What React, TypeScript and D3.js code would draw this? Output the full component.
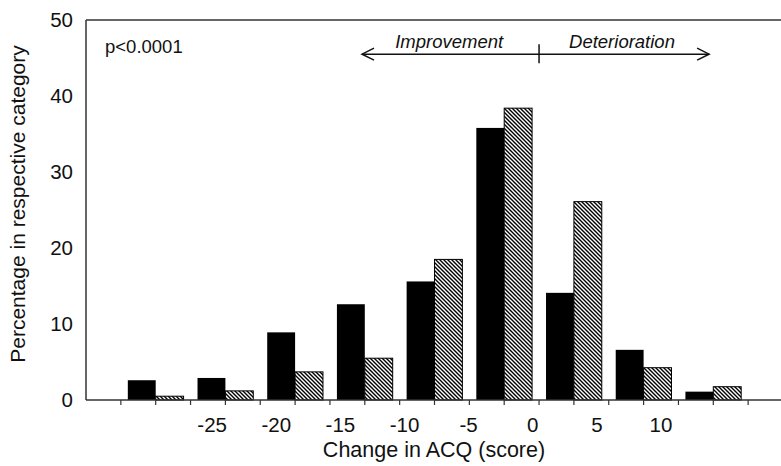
import * as d3 from "d3";

// bin lower edges (ACQ change, score)
const bins = [-30, -25, -20, -15, -10, -5, 0, 5, 10];
const solidValues = [2.6, 2.9, 8.9, 12.6, 15.6, 35.8, 14.1, 6.6, 1.1];
const hatchValues = [0.5, 1.2, 3.7, 5.5, 18.5, 38.4, 26.1, 4.25, 1.75];
const xTickLabels = [-25, -20, -15, -10, -5, 0, 5, 10];
const yTicks = [0, 10, 20, 30, 40, 50];

const W = 781;
const H = 466;
const font = "Arial, 'Liberation Sans', Helvetica, sans-serif";

export default function App() {
  const x = d3.scaleLinear().domain([-32.5, 17.5]).range([86, 783]);
  const y = d3.scaleLinear().domain([0, 50]).range([400, 20]);
  // tick labels in the original sit slightly off the bin edges
  const labelX = d3.scaleLinear().domain([-25, 10]).range([x(-23.45), x(8.75)]);
  const minorTicks = d3.range(-30, 15.01, 2.5);

  const arrowY = y(45.5);
  const leftTip = x(-12.7);
  const rightTip = x(12.2);

  return (
    <svg width={W} height={H} style={{ position: "absolute", left: 0, top: 0, background: "#fff" }} fontFamily={font}>
      <defs>
        <pattern id="hatch" patternUnits="userSpaceOnUse" width={4} height={4}>
          <rect width={4} height={4} fill="#fff" />
          <path d="M-1,-1 L5,5 M-1,3 L1,5 M3,-1 L5,1" stroke="#000" strokeWidth={1.4} />
        </pattern>
      </defs>

      {/* bars */}
      {bins.map((b, i) => (
        <g key={b}>
          <rect x={x(b + 0.5)} y={y(solidValues[i])} width={x(b + 2.5) - x(b + 0.5)} height={y(0) - y(solidValues[i])} fill="#000" />
          <rect x={x(b + 2.5)} y={y(hatchValues[i])} width={x(b + 4.5) - x(b + 2.5)} height={y(0) - y(hatchValues[i])} fill="url(#hatch)" stroke="#000" strokeWidth={1} />
        </g>
      ))}

      {/* frame */}
      <line x1={x(-32.5)} x2={x(17.5)} y1={y(50)} y2={y(50)} stroke="#333" strokeWidth={1.5} />
      <line x1={x(-32.5)} x2={x(-32.5)} y1={y(50)} y2={y(0)} stroke="#333" strokeWidth={1.5} />
      <line x1={x(-32.5)} x2={x(17.5)} y1={y(0)} y2={y(0)} stroke="#333" strokeWidth={1.5} />
      {minorTicks.map((t) => (
        <line key={t} x1={x(t)} x2={x(t)} y1={y(0)} y2={y(0) + 5} stroke="#333" strokeWidth={1.2} />
      ))}

      {/* y tick labels */}
      {yTicks.map((t) => (
        <text key={t} x={73} y={y(t)} dy="0.35em" textAnchor="end" fontSize={20.5} fill="#111">{t}</text>
      ))}

      {/* x tick labels */}
      {xTickLabels.map((t) => (
        <text key={t} x={labelX(t)} y={432} textAnchor="middle" fontSize={20.5} fill="#111">{t}</text>
      ))}

      {/* axis titles */}
      <text x={434} y={457} textAnchor="middle" fontSize={21.5} fill="#111">Change in ACQ (score)</text>
      <text transform={`translate(25,${204}) rotate(-90)`} textAnchor="middle" fontSize={21} fill="#111">Percentage in respective category</text>

      {/* annotations */}
      <text x={105} y={53} fontSize={18.5} fill="#111">p&lt;0.0001</text>
      <line x1={leftTip} x2={rightTip} y1={arrowY} y2={arrowY} stroke="#111" strokeWidth={1.5} />
      <line x1={x(0)} x2={x(0)} y1={arrowY - 10} y2={arrowY + 9} stroke="#111" strokeWidth={1.5} />
      <path d={`M${leftTip + 12},${arrowY - 6} L${leftTip},${arrowY} L${leftTip + 12},${arrowY + 6}`} fill="none" stroke="#111" strokeWidth={1.5} />
      <path d={`M${rightTip - 12},${arrowY - 6} L${rightTip},${arrowY} L${rightTip - 12},${arrowY + 6}`} fill="none" stroke="#111" strokeWidth={1.5} />
      <text x={x(-6.45)} y={arrowY - 6} textAnchor="middle" fontSize={18.5} fontStyle="italic" fill="#111">Improvement</text>
      <text x={x(5.95)} y={arrowY - 6} textAnchor="middle" fontSize={18.5} fontStyle="italic" fill="#111">Deterioration</text>
    </svg>
  );
}
